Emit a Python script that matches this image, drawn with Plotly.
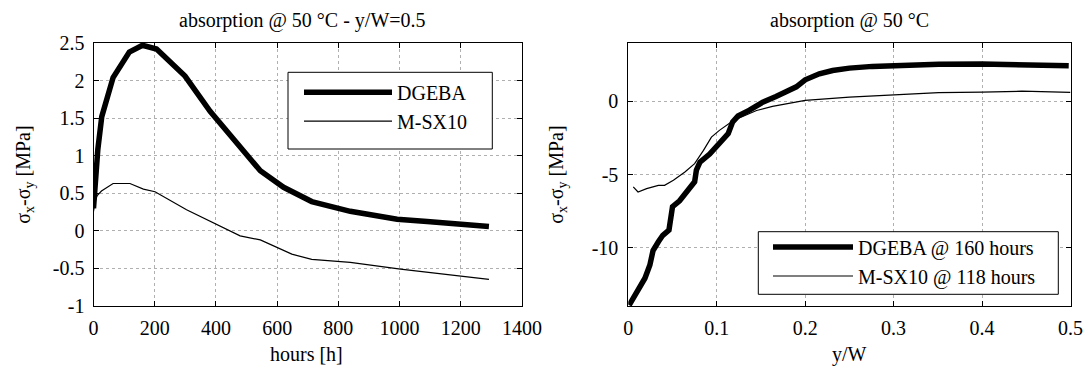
import plotly.graph_objects as go

# ---------------- data ----------------
# left panel: sigma_x - sigma_y at y/W = 0.5 vs absorption time
hours_dgeba = [0, 5, 14, 27, 40, 64, 117, 160, 206, 299, 381, 479, 545, 621, 713, 839, 992, 1090, 1292]
stress_dgeba = [0.30, 0.60, 1.08, 1.52, 1.72, 2.04, 2.38, 2.47, 2.42, 2.06, 1.59, 1.12, 0.80, 0.58, 0.39, 0.26, 0.155, 0.125, 0.057]

hours_msx = [0, 6, 12, 26, 64, 119, 163, 201, 304, 392, 479, 545, 648, 713, 839, 1003, 1292]
stress_msx = [0.26, 0.40, 0.47, 0.53, 0.63, 0.63, 0.555, 0.52, 0.28, 0.10, -0.067, -0.12, -0.31, -0.38, -0.42, -0.51, -0.645]

# right panel: profile across width
yw_dgeba = [0.001, 0.0094, 0.0188, 0.0244, 0.028, 0.034, 0.039, 0.046, 0.050, 0.058, 0.068, 0.075, 0.077,
            0.081, 0.092, 0.105, 0.113, 0.118, 0.124, 0.137, 0.152, 0.167, 0.182, 0.190, 0.200, 0.216,
            0.231, 0.250, 0.276, 0.299, 0.351, 0.400, 0.445, 0.498]
prof_dgeba = [-13.94, -13.1, -12.1, -11.2, -10.2, -9.6, -9.16, -8.8, -7.2, -6.8, -6.1, -5.5, -4.7,
              -4.15, -3.6, -2.8, -2.2, -1.4, -1.0, -0.6, -0.05, 0.34, 0.75, 1.0, 1.48, 1.89,
              2.12, 2.28, 2.40, 2.47, 2.55, 2.56, 2.50, 2.44]

yw_msx = [0.0056, 0.011, 0.0207, 0.034, 0.041, 0.051, 0.064, 0.075, 0.085, 0.094, 0.103, 0.113, 0.118,
          0.126, 0.145, 0.163, 0.200, 0.250, 0.300, 0.351, 0.400, 0.445, 0.500]
prof_msx = [-5.85, -6.2, -5.97, -5.74, -5.74, -5.4, -4.83, -4.26, -3.35, -2.44, -1.98, -1.53, -1.34,
            -1.12, -0.62, -0.34, 0.07, 0.30, 0.46, 0.60, 0.64, 0.70, 0.62]

# tick labels
left_xticks = [0, 200, 400, 600, 800, 1000, 1200, 1400]
left_yticks = [-1, -0.5, 0, 0.5, 1, 1.5, 2, 2.5]
left_ytext = ["-1", "-0.5", "0", "0.5", "1", "1.5", "2", "2.5"]
right_xticks = [0, 0.1, 0.2, 0.3, 0.4, 0.5]
right_xtext = ["0", "0.1", "0.2", "0.3", "0.4", "0.5"]
right_yticks = [-10, -5, 0]
right_ytext = ["-10", "-5", "0"]

# ---------------- figure ----------------
FW, FH = 1089, 366
FONT = "Liberation Serif"
FS = 20

def px_x(p):
    return p / FW

def px_y(p):
    return 1 - p / FH

fig = go.Figure()
fig.add_trace(go.Scatter(x=hours_dgeba, y=stress_dgeba, mode="lines", name="DGEBA",
                         line=dict(color="black", width=5.5), xaxis="x", yaxis="y", legend="legend"))
fig.add_trace(go.Scatter(x=hours_msx, y=stress_msx, mode="lines", name="M-SX10",
                         line=dict(color="black", width=1.2), xaxis="x", yaxis="y", legend="legend"))
fig.add_trace(go.Scatter(x=yw_dgeba, y=prof_dgeba, mode="lines", name="DGEBA @ 160 hours",
                         line=dict(color="black", width=5.5), xaxis="x2", yaxis="y2", legend="legend2"))
fig.add_trace(go.Scatter(x=yw_msx, y=prof_msx, mode="lines", name="M-SX10 @ 118 hours",
                         line=dict(color="black", width=1.2), xaxis="x2", yaxis="y2", legend="legend2"))

ax_common = dict(showline=True, linecolor="black", linewidth=1, mirror="allticks",
                 ticks="inside", ticklen=5, tickcolor="black", automargin=False,
                 showgrid=True, gridcolor="#b0b0b0", griddash="dot", gridwidth=1,
                 zeroline=False, tickfont=dict(family=FONT, size=FS, color="black"))

y_dom = [px_y(306), px_y(43)]

fig.update_layout(
    width=FW, height=FH,
    margin=dict(l=0, r=0, t=0, b=0, pad=0, autoexpand=False),
    paper_bgcolor="white", plot_bgcolor="white",
    font=dict(family=FONT, size=FS, color="black"),
    xaxis=dict(domain=[px_x(93.5), px_x(522)], range=[0, 1400], tickvals=left_xticks,
               anchor="y", ticklabelstandoff=4, **ax_common),
    yaxis=dict(domain=y_dom, range=[-1, 2.5], tickvals=left_yticks, ticktext=left_ytext,
               anchor="x", ticklabelstandoff=4, **ax_common),
    xaxis2=dict(domain=[px_x(628.3), px_x(1070.5)], range=[0, 0.5], tickvals=right_xticks,
                ticktext=right_xtext, anchor="y2", ticklabelstandoff=4, **ax_common),
    yaxis2=dict(domain=y_dom, range=[-14, 4], tickvals=right_yticks, ticktext=right_ytext,
                anchor="x2", ticklabelstandoff=5, **ax_common),
    legend=dict(x=px_x(299), y=px_y(72.7), xanchor="left", yanchor="top",
                borderwidth=0, bgcolor="rgba(0,0,0,0)",
                font=dict(family=FONT, size=FS), itemwidth=88, tracegroupgap=0),
    legend2=dict(x=px_x(768), y=px_y(227.5), xanchor="left", yanchor="top",
                 borderwidth=0, bgcolor="rgba(0,0,0,0)",
                 font=dict(family=FONT, size=FS), itemwidth=80, tracegroupgap=0),
    showlegend=True,
)

# opaque legend frames
box = dict(type="rect", xref="paper", yref="paper", line=dict(color="black", width=1),
           fillcolor="white", layer="above")
fig.add_shape(x0=px_x(288), x1=px_x(492.3), y0=px_y(149), y1=px_y(72.3), **box)
fig.add_shape(x0=px_x(758.3), x1=px_x(1058.3), y0=px_y(294.3), y1=px_y(231.7), **box)

ann = dict(showarrow=False, xref="paper", yref="paper", font=dict(family=FONT, size=FS, color="black"))
fig.add_annotation(text="absorption @ 50 °C - y/W=0.5", x=px_x(302.5), y=px_y(21),
                   xanchor="center", yanchor="middle", **ann)
fig.add_annotation(text="absorption @ 50 °C", x=px_x(849.4), y=px_y(21),
                   xanchor="center", yanchor="middle", **ann)
fig.add_annotation(text="hours [h]", x=px_x(306.7), y=px_y(354),
                   xanchor="center", yanchor="middle", **ann)
fig.add_annotation(text="y/W", x=px_x(849.4), y=px_y(354),
                   xanchor="center", yanchor="middle", **ann)
fig.add_annotation(text="σ<sub>x</sub>-σ<sub>y</sub> [MPa]", x=px_x(25), y=px_y(174.7),
                   xanchor="center", yanchor="middle", textangle=-90, **ann)
fig.add_annotation(text="σ<sub>x</sub>-σ<sub>y</sub> [MPa]", x=px_x(558), y=px_y(174.7),
                   xanchor="center", yanchor="middle", textangle=-90, **ann)

# remove the browser's default page margin so the figure sits at the window origin
fig.write_html("out.html", config={"displayModeBar": False},
               post_script="document.body.style.margin='0';document.body.style.overflow='hidden';")
